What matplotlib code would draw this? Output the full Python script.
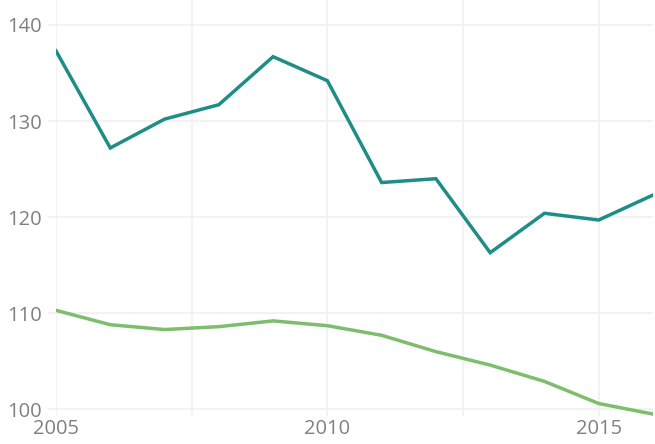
import matplotlib
matplotlib.use("Agg")
import matplotlib.pyplot as plt

years = [2005, 2006, 2007, 2008, 2009, 2010, 2011, 2012, 2013, 2014, 2015, 2016]
teal_values = [137.3, 127.2, 130.2, 131.7, 136.7, 134.2, 123.6, 124.0, 116.3, 120.4, 119.7, 122.3]
green_values = [110.3, 108.8, 108.3, 108.6, 109.2, 108.7, 107.7, 106.0, 104.6, 102.9, 100.6, 99.5]

x_ticks = [2005, 2007.5, 2010, 2012.5, 2015]
x_labels = ["2005", "", "2010", "", "2015"]
y_ticks = [100, 110, 120, 130, 140]

plt.rcParams["font.family"] = ["Open Sans", "DejaVu Sans"]

fig = plt.figure(figsize=(6.55, 4.44), dpi=100)
ax = fig.add_axes([56 / 655, (444 - 416) / 444, 597 / 655, 416 / 444])

grid_color = "#f1f1f1"
ax.plot(years, teal_values, color="#1f8d87", lw=2.5, solid_joinstyle="miter", zorder=3)
ax.plot(years, green_values, color="#7dbd6b", lw=2.5, solid_joinstyle="miter", zorder=3)

ax.set_xlim(2005, 2016)
ax.set_ylim(99.3, 142.6)
ax.set_xticks(x_ticks)
ax.set_xticklabels(x_labels)
ax.set_yticks(y_ticks)

ax.grid(True, color=grid_color, lw=1.3)
ax.set_axisbelow(True)
for s in ax.spines.values():
  s.set_visible(False)

ax.tick_params(axis="y", length=6, width=1.3, color=grid_color, labelcolor="#808080",
               labelsize=14.5, pad=4)
ax.tick_params(axis="x", length=0, labelcolor="#808080", labelsize=14.5, pad=2)

fig.savefig("out.png", dpi=100)
